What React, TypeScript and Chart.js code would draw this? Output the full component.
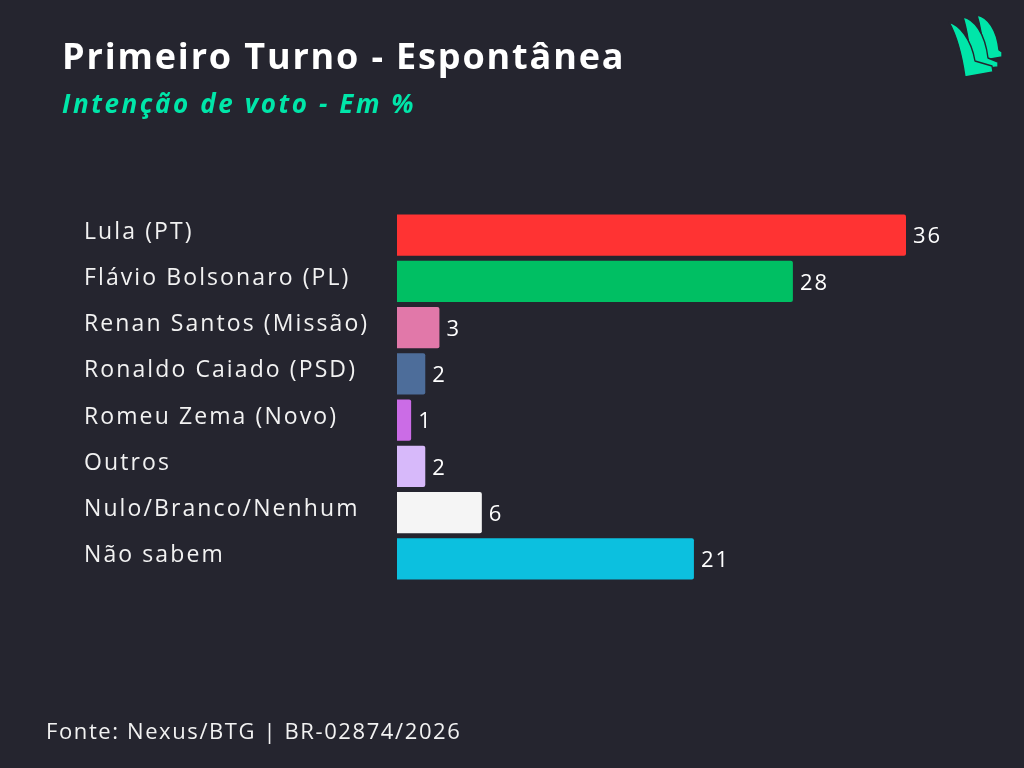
import React, { useEffect, useRef } from "react";
import { Chart, registerables } from "chart.js";

Chart.register(...registerables);

const categories = [
  "Lula (PT)",
  "Flávio Bolsonaro (PL)",
  "Renan Santos (Missão)",
  "Ronaldo Caiado (PSD)",
  "Romeu Zema (Novo)",
  "Outros",
  "Nulo/Branco/Nenhum",
  "Não sabem",
];
const values = [36, 28, 3, 2, 1, 2, 6, 21];
const barColors = [
  "#FF3333",
  "#00BF63",
  "#E178A9",
  "#4D6D9A",
  "#CB6CE6",
  "#D7B9FA",
  "#F5F5F5",
  "#0CC0DF",
];

const BG = "#25252F";
const ACCENT = "#00E6A9";
const FONT = "'Open Sans', sans-serif";

const spacing = {
  id: "spacing",
  afterLayout(chart: any) {
    const s = chart.scales.y;
    if (s && !s.__shifted) {
      const orig = s.drawLabels.bind(s);
      s.drawLabels = (area: any) => {
        const ctx = chart.ctx;
        ctx.save();
        ctx.translate(0, -3);
        orig(area);
        ctx.restore();
      };
      s.__shifted = true;
    }
  },
  beforeDraw(chart: any) {
    (chart.ctx as any).letterSpacing = "2.1px";
  },
};

const valueLabels = {
  id: "valueLabels",
  afterDatasetsDraw(chart: any) {
    const ctx = chart.ctx;
    const meta = chart.getDatasetMeta(0);
    ctx.save();
    (ctx as any).letterSpacing = "2px";
    ctx.fillStyle = "#FFFFFF";
    ctx.font = `22px ${FONT}`;
    ctx.textAlign = "left";
    ctx.textBaseline = "middle";
    meta.data.forEach((bar: any, i: number) => {
      ctx.fillText(String(values[i]), bar.x + 7, bar.y + 2);
    });
    ctx.restore();
  },
};

function Logo() {
  const back =
    "M977,15 C988,17 997,30 999,50 L1002,52 L1002,57 L985,60 C983,42 981,28 977,15 Z";
  const middle =
    "M963,17 C974,19 985,33 988,58 L998,62 L998,67 L972,70 C970,50 968,32 963,17 Z";
  const front =
    "M949,22 C959,25 971,38 975,61 L992,66 L993,72 L965,77 C962,56 958,38 949,22 Z";
  return (
    <svg
      width="80"
      height="80"
      viewBox="940 8 80 80"
      style={{ position: "absolute", left: 940, top: 8 }}
    >
      <path d={back} fill={ACCENT} stroke={BG} strokeWidth="1.4" strokeLinejoin="round" />
      <path d={middle} fill={ACCENT} stroke={BG} strokeWidth="1.4" strokeLinejoin="round" />
      <path d={front} fill={ACCENT} stroke={BG} strokeWidth="1.4" strokeLinejoin="round" />
    </svg>
  );
}

export default function App() {
  const canvasRef = useRef<HTMLCanvasElement>(null);

  useEffect(() => {
    document.body.style.margin = "0";
    const chart = new Chart(canvasRef.current!, {
      type: "bar",
      data: {
        labels: categories,
        datasets: [
          {
            data: values,
            backgroundColor: barColors,
            borderRadius: 2,
            borderSkipped: "start",
            barPercentage: 0.89,
            categoryPercentage: 1,
          },
        ],
      },
      options: {
        indexAxis: "y",
        animation: false,
        responsive: false,
        maintainAspectRatio: false,
        layout: { padding: { left: 84, right: 118, top: 212, bottom: 186 } },
        plugins: {
          legend: { display: false },
          tooltip: { enabled: false },
          title: { display: false },
        },
        scales: {
          x: { display: false, min: 0, max: 36 },
          y: {
            grid: { display: false },
            border: { display: false },
            afterFit(scale: any) {
              scale.width = 313;
            },
            ticks: {
              crossAlign: "far",
              color: "#F2F2F2",
              font: { family: FONT, size: 23 },
              padding: 0,
            },
          },
        },
      },
      plugins: [spacing, valueLabels],
    });
    return () => chart.destroy();
  }, []);

  return (
    <div
      style={{
        position: "relative",
        width: 1024,
        height: 768,
        background: BG,
        overflow: "hidden",
        fontFamily: FONT,
      }}
    >
      <canvas
        ref={canvasRef}
        width={1024}
        height={768}
        style={{ position: "absolute", left: 0, top: 0, width: 1024, height: 768 }}
      />
      <div
        style={{
          position: "absolute",
          left: 62,
          top: 32,
          color: "#FFFFFF",
          fontSize: 36,
          fontWeight: 700,
          letterSpacing: "1.85px",
          lineHeight: "48px",
          whiteSpace: "nowrap",
        }}
      >
        Primeiro Turno - Espontânea
      </div>
      <div
        style={{
          position: "absolute",
          left: 62,
          top: 87,
          color: ACCENT,
          fontSize: 26,
          fontWeight: 700,
          fontStyle: "italic",
          letterSpacing: "2.6px",
          lineHeight: "32px",
          whiteSpace: "nowrap",
        }}
      >
        Intenção de voto - Em %
      </div>
      <div
        style={{
          position: "absolute",
          left: 46,
          top: 716,
          color: "#F2F2F2",
          fontSize: 22,
          letterSpacing: "1.6px",
          lineHeight: "28px",
          whiteSpace: "nowrap",
        }}
      >
        Fonte: Nexus/BTG | BR-02874/2026
      </div>
      <Logo />
    </div>
  );
}
